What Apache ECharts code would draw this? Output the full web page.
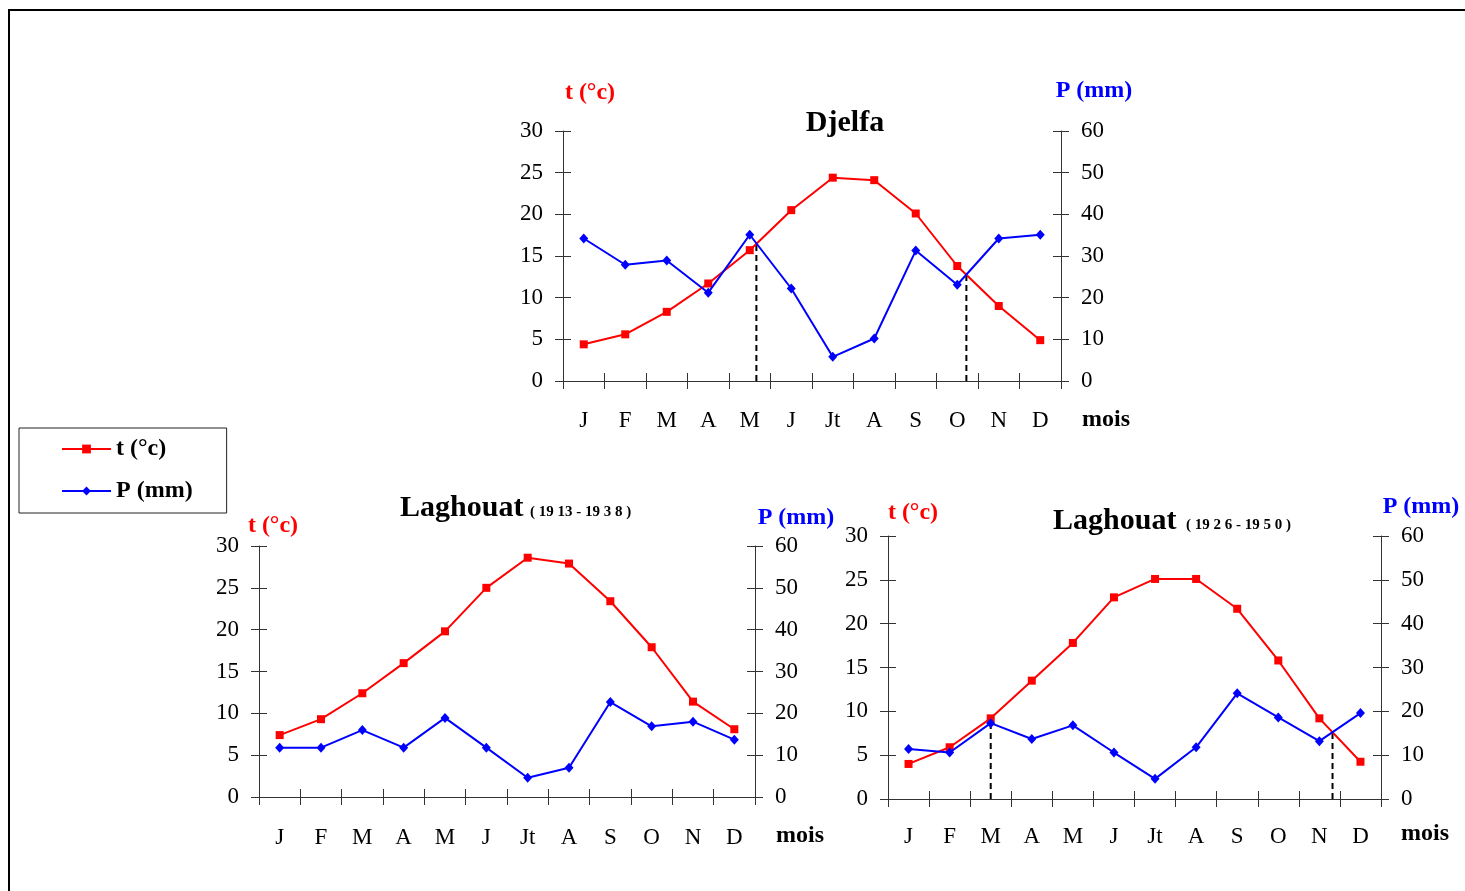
<!DOCTYPE html>
<html>
<head>
<meta charset="utf-8">
<title>Diagrammes ombrothermiques</title>
<script src="https://cdn.jsdelivr.net/npm/echarts@6/dist/echarts.min.js"></script>
<style>
  html, body { margin: 0; padding: 0; background: #fff; }
  #chart { width: 1465px; height: 891px; }
</style>
</head>
<body>
<div id="chart"></div>
<script>
// Month labels shared by the three diagrams
const months = ['J', 'F', 'M', 'A', 'M', 'J', 'Jt', 'A', 'S', 'O', 'N', 'D'];

// Djelfa: mean monthly temperature (°C) and precipitation (mm)
const tempDjelfa = [4.4, 5.6, 8.3, 11.7, 15.7, 20.5, 24.4, 24.1, 20.1, 13.8, 9.0, 4.9];
const precDjelfa = [34.2, 27.9, 28.9, 21.2, 35.1, 22.2, 5.8, 10.2, 31.3, 23.1, 34.2, 35.1];

// Laghouat 1913-1938
const tempLaghouat1 = [7.4, 9.3, 12.4, 16.0, 19.8, 25.0, 28.6, 27.9, 23.4, 17.9, 11.4, 8.1];
const precLaghouat1 = [11.8, 11.8, 16.0, 11.8, 18.9, 11.8, 4.6, 7.0, 22.7, 16.9, 18.0, 13.7];

// Laghouat 1926-1950
const tempLaghouat2 = [4.0, 5.9, 9.2, 13.5, 17.8, 23.0, 25.1, 25.1, 21.7, 15.8, 9.2, 4.25];
const precLaghouat2 = [11.4, 10.6, 17.3, 13.7, 16.8, 10.6, 4.6, 11.8, 24.1, 18.6, 13.2, 19.6];

// Limits of the dry season, in month positions (0 = January)
const dryDjelfa = [4.16, 9.22];
const dryLaghouat1 = [];
const dryLaghouat2 = [2.0, 10.32];

// Axis ticks
const tempTicks = [0, 30, 5];   // min, max, step
const precTicks = [0, 60, 10];

const FONT = 'Liberation Serif';
const RED = '#ff0000';
const BLUE = '#0000ff';
const AXIS = '#333';

const panels = [
  { temp: tempDjelfa, prec: precDjelfa, dry: dryDjelfa,
    grid: { left: 563, top: 131, width: 498, height: 250 }, labelMargin: 28 },
  { temp: tempLaghouat1, prec: precLaghouat1, dry: dryLaghouat1,
    grid: { left: 259, top: 546, width: 496, height: 251 }, labelMargin: 29 },
  { temp: tempLaghouat2, prec: precLaghouat2, dry: dryLaghouat2,
    grid: { left: 888, top: 536, width: 493, height: 263 }, labelMargin: 26 }
];

// value of a monthly series at a fractional month position
function interp(arr, x) {
  const i = Math.max(0, Math.min(arr.length - 2, Math.floor(x)));
  const f = x - i;
  return arr[i] + (arr[i + 1] - arr[i]) * f;
}

const grid = [], xAxis = [], yAxis = [], series = [];

panels.forEach((p, g) => {
  grid.push(Object.assign({ containLabel: false }, p.grid));

  const tickStyle = { color: AXIS, width: 1 };
  // visible category axis (ticks below the line)
  xAxis.push({
    type: 'category', gridIndex: g, position: 'bottom', data: months, boundaryGap: true,
    axisLine: { onZero: false, lineStyle: { color: AXIS, width: 1 } },
    axisTick: { show: true, length: 8, inside: false, lineStyle: tickStyle },
    axisLabel: { color: '#000', fontFamily: FONT, fontSize: 23, margin: p.labelMargin, interval: 0 },
    splitLine: { show: false }
  });
  // same axis, ticks above the line
  xAxis.push({
    type: 'category', gridIndex: g, position: 'bottom', data: months, boundaryGap: true,
    axisLine: { show: false, onZero: false },
    axisTick: { show: true, length: 8, inside: true, lineStyle: tickStyle },
    axisLabel: { show: false }, splitLine: { show: false }
  });
  // hidden numeric axis used to place the dry-season limits
  xAxis.push({
    type: 'value', gridIndex: g, position: 'bottom', min: -0.5, max: 11.5, show: false,
    axisLine: { onZero: false }
  });

  const baseY = (ticks, pos, inside, labels) => ({
    type: 'value', gridIndex: g, position: pos,
    min: ticks[0], max: ticks[1], interval: ticks[2],
    axisLine: { show: !inside, onZero: false, lineStyle: { color: AXIS, width: 1 } },
    axisTick: { show: true, length: 8, inside: inside, lineStyle: tickStyle },
    axisLabel: labels
      ? { show: true, color: '#000', fontFamily: FONT, fontSize: 23, margin: 20 }
      : { show: false },
    splitLine: { show: false }
  });
  yAxis.push(baseY(tempTicks, 'left', false, true));
  yAxis.push(baseY(tempTicks, 'left', true, false));
  yAxis.push(baseY(precTicks, 'right', false, true));
  yAxis.push(baseY(precTicks, 'right', true, false));

  // dry-season limits: dashed verticals from the month axis to the curves
  p.dry.forEach((x) => {
    const top = Math.min(interp(p.temp, x), interp(p.prec, x) / 2);
    series.push({
      name: 'limite', type: 'line', xAxisIndex: 3 * g + 2, yAxisIndex: 4 * g,
      data: [[x, 0], [x, top]], symbol: 'none', silent: true,
      lineStyle: { color: '#000', width: 2, type: [6, 4] }, z: 1
    });
  });

  series.push({
    name: 't (°c)', type: 'line', xAxisIndex: 3 * g, yAxisIndex: 4 * g,
    data: p.temp, symbol: 'rect', symbolSize: 8,
    lineStyle: { color: RED, width: 2 }, itemStyle: { color: RED },
    z: 3
  });
  series.push({
    name: 'P (mm)', type: 'line', xAxisIndex: 3 * g, yAxisIndex: 4 * g + 2,
    data: p.prec, symbol: 'diamond', symbolSize: [9, 10],
    lineStyle: { color: BLUE, width: 2 }, itemStyle: { color: BLUE },
    z: 4
  });
});

// free text: titles, axis names and the "mois" label
function txt(x, y, text, size, color, align, weight) {
  return {
    type: 'text', x: x, y: y, silent: true,
    style: {
      text: text, fill: color || '#000', align: align || 'center', verticalAlign: 'middle',
      font: (weight || 'bold') + ' ' + size + 'px "' + FONT + '"'
    }
  };
}

const graphic = [
  // outer frame
  { type: 'rect', shape: { x: 9, y: 10, width: 1480, height: 900 }, silent: true,
    style: { fill: 'none', stroke: '#000', lineWidth: 2 } },

  txt(845, 123, 'Djelfa', 30),
  txt(590, 93, 't (°c)', 24, RED),
  txt(1094, 91, 'P (mm)', 24, BLUE),
  txt(1106, 420, 'mois', 24),

  txt(400, 508, 'Laghouat', 30, '#000', 'left'),
  txt(530, 512, '( 19 13 - 19 3 8 )', 15, '#000', 'left'),
  txt(273, 526, 't (°c)', 24, RED),
  txt(796, 518, 'P (mm)', 24, BLUE),
  txt(800, 836, 'mois', 24),

  txt(1053, 521, 'Laghouat', 30, '#000', 'left'),
  txt(1186, 525, '( 19 2 6 - 19 5 0 )', 15, '#000', 'left'),
  txt(913, 513, 't (°c)', 24, RED),
  txt(1421, 507, 'P (mm)', 24, BLUE),
  txt(1425, 834, 'mois', 24)
];

const chart = echarts.init(document.getElementById('chart'), null, { renderer: 'canvas' });
chart.setOption({
  animation: false,
  backgroundColor: '#fff',
  grid: grid,
  xAxis: xAxis,
  yAxis: yAxis,
  series: series,
  graphic: graphic,
  legend: {
    data: ['t (°c)', 'P (mm)'],
    orient: 'vertical', left: 19, top: 428,
    padding: [9, 34, 10, 42], itemGap: 18,
    itemWidth: 49, itemHeight: 11, itemSymbolKeepAspect: true,
    borderColor: '#222', borderWidth: 1, backgroundColor: '#fff',
    textStyle: { fontFamily: FONT, fontSize: 24, fontWeight: 'bold', color: '#000', lineHeight: 24 }
  }
});
</script>
</body>
</html>
